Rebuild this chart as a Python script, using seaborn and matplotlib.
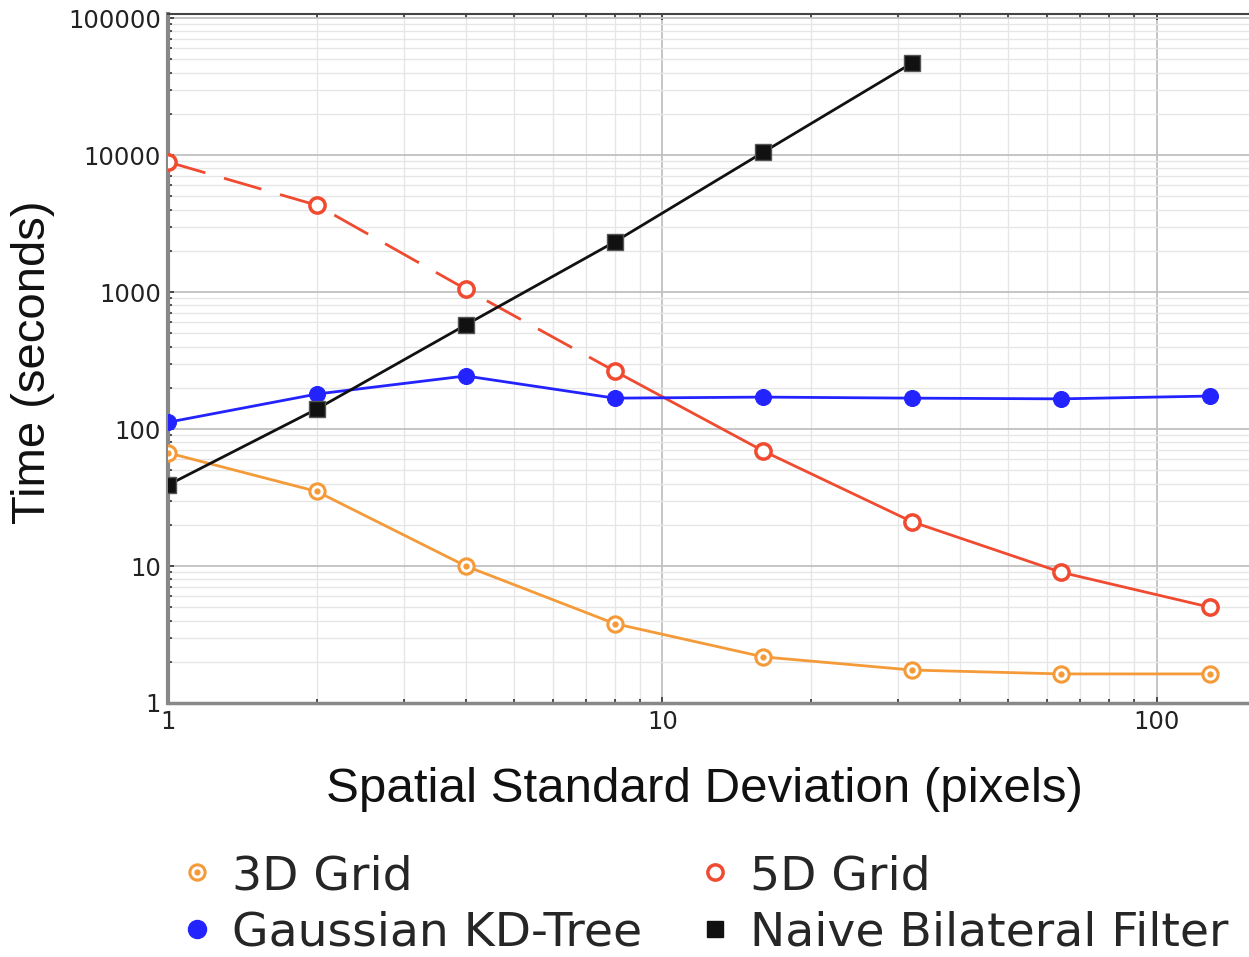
import numpy as np
import pandas as pd
import matplotlib
matplotlib.use('Agg')
import matplotlib.pyplot as plt
import seaborn as sns
from matplotlib.lines import Line2D
from matplotlib.legend_handler import HandlerTuple
from matplotlib.ticker import FixedLocator, FixedFormatter, LogLocator, NullFormatter

# dane
sigma = [1, 2, 4, 8, 16, 32, 64, 128]
grid3d = [67, 35, 10, 3.8, 2.17, 1.74, 1.63, 1.63]
grid5d = [8900, 4300, 1050, 265, 69, 21, 9.0, 5.0]
kdtree = [112, 180, 244, 168, 171, 168, 166, 174]
naive_sigma = [1, 2, 4, 8, 16, 32]
naive = [39, 140, 575, 2320, 10500, 47000]

c3d = '#f59a38'
c5d = '#f04a30'
ckd = '#2323ff'
cnv = '#111111'

sns.set_theme(style='white')
plt.rcParams['font.family'] = ['DejaVu Sans']

fig = plt.figure(figsize=(12.49, 9.57), dpi=100)
ax = fig.add_axes([168 / 1249, 1 - 703 / 957, (1249 - 168) / 1249, (703 - 14) / 957])
ax.set_xscale('log')
ax.set_yscale('log')

# 3D Grid
sns.lineplot(x=sigma, y=grid3d, ax=ax, color=c3d, lw=2, marker='o', ms=11,
             mfc='white', mec=c3d, mew=2.2, zorder=3)
ax.scatter(sigma, grid3d, s=12, color=c3d, zorder=4)

# 5D Grid: przerywana do 8, potem ciągła
sns.lineplot(x=sigma[:4], y=grid5d[:4], ax=ax, color=c5d, lw=2, zorder=3)
ax.lines[-1].set_dashes([14, 7])
sns.lineplot(x=sigma[3:], y=grid5d[3:], ax=ax, color=c5d, lw=2, zorder=3)
ax.plot(sigma, grid5d, ls='none', marker='o', ms=11, mfc='white', mec=c5d, mew=2.5, zorder=4)

# Gaussian KD-Tree
sns.lineplot(x=sigma, y=kdtree, ax=ax, color=ckd, lw=2, marker='o', ms=11.5,
             mec=ckd, zorder=3)

# Naive
sns.lineplot(x=naive_sigma, y=naive, ax=ax, color=cnv, lw=2, marker='s', ms=11,
             mec='#555555', mew=1, zorder=5)

ax.set_xlim(1, 153.5)
ax.set_ylim(1, 1.07e5)

ax.xaxis.set_major_locator(FixedLocator([1, 10, 100]))
ax.xaxis.set_major_formatter(FixedFormatter(['1', '10', '100']))
ax.yaxis.set_major_locator(FixedLocator([1, 10, 100, 1000, 10000, 100000]))
ax.yaxis.set_major_formatter(FixedFormatter(['1', '10', '100', '1000', '10000', '100000']))
ax.xaxis.set_minor_locator(LogLocator(base=10, subs=np.arange(2, 10)))
ax.yaxis.set_minor_locator(LogLocator(base=10, subs=np.arange(2, 10)))
ax.xaxis.set_minor_formatter(NullFormatter())
ax.yaxis.set_minor_formatter(NullFormatter())

ax.grid(which='major', color='#c0c0c0', lw=1.3)
ax.grid(which='minor', color='#e6e6e6', lw=1.0)
ax.set_axisbelow(True)
ax.tick_params(which='both', direction='in', top=True, left=True, bottom=True,
               color='#333333', length=4, width=1.2, labelsize=17.5, labelcolor='#222222', pad=5)
ax.tick_params(which='minor', length=3)

ax.spines['left'].set_color('#888888')
ax.spines['left'].set_linewidth(3)
ax.spines['bottom'].set_color('#888888')
ax.spines['bottom'].set_linewidth(2.5)
ax.spines['top'].set_color('#444444')
ax.spines['top'].set_linewidth(1.5)
ax.spines['right'].set_visible(False)

fig.text(704 / 1249, 1 - 790 / 957, 'Spatial Standard Deviation (pixels)',
         ha='center', va='center', fontsize=35.5, family='Liberation Sans', color='#111111')
fig.text(33 / 1249, 1 - 362 / 957, 'Time (seconds)', rotation=90,
         ha='center', va='center', fontsize=34, family='Liberation Sans', color='#111111')

h3 = (Line2D([], [], ls='none', marker='o', ms=11, mfc='white', mec=c3d, mew=2.2),
      Line2D([], [], ls='none', marker='o', ms=3.5, color=c3d))
h5 = Line2D([], [], ls='none', marker='o', ms=11, mfc='white', mec=c5d, mew=2.5)
hk = Line2D([], [], ls='none', marker='o', ms=13, color=ckd)
hn = Line2D([], [], ls='none', marker='s', ms=11, color=cnv)
fig.legend([h3, hk, h5, hn], ['3D Grid', 'Gaussian KD-Tree', '5D Grid', 'Naive Bilateral Filter'],
           ncol=2, loc='upper left', bbox_to_anchor=(185 / 1249, 1 - 854 / 957),
           frameon=False, fontsize=34, handlelength=0.5, handletextpad=0.49,
           columnspacing=1.29, labelspacing=0.25, borderpad=0, borderaxespad=0,
           handler_map={tuple: HandlerTuple(ndivide=1)})

fig.savefig('out.png', dpi=100, facecolor='white')
